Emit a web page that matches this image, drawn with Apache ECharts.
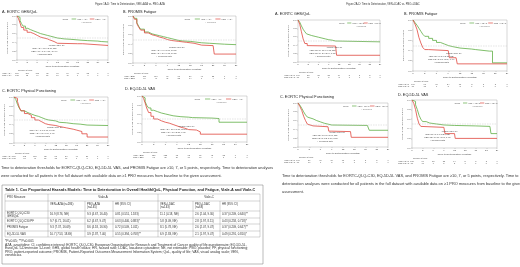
<!DOCTYPE html>
<html><head><meta charset="utf-8">
<script src="https://cdn.jsdelivr.net/npm/echarts@6/dist/echarts.min.js"></script>
<style>html,body{margin:0;padding:0;background:#fff}#c{width:520px;height:267px}</style>
</head><body><div id="c"></div>
<script>
// ---------- DATA ----------
const xTicksA = [0,3,6,9,12,15,18,21,24,27];
const xTicksC = [0,3,6,9,12,15,18,21,24];

// Figure 1 (VIALE-A) curves [month, proportion without deterioration]
const a_ghs_ven = [[0,1],[0.4,0.97],[0.9,0.9],[1.3,0.83],[1.8,0.77],[2.5,0.72],[3.2,0.69],[4,0.66],[5,0.63],[6,0.6],[7,0.58],[8,0.56],[9,0.54],[10,0.52],[11,0.5],[12,0.49],[13,0.48],[14,0.47],[16,0.46],[17.5,0.45],[19,0.44],[21,0.43],[24,0.42],[25,0.41],[27,0.41]];
const a_ghs_pbo = [[0,1],[0.4,0.95],[0.9,0.84],[1.3,0.74],[2,0.68],[3,0.63],[4,0.6],[5,0.56],[6,0.52],[7,0.5],[8,0.48],[9,0.46],[9.6,0.42],[11,0.38],[12,0.37],[18,0.37],[19.5,0.33],[27,0.33]];
const a_fat_ven = [[0,1],[0.4,0.95],[1,0.86],[1.5,0.78],[2,0.72],[3,0.66],[4,0.62],[5,0.6],[6,0.58],[7,0.56],[8,0.54],[9,0.52],[10,0.5],[11,0.48],[12,0.47],[13,0.46],[15,0.45],[16,0.43],[18,0.42],[20,0.41],[22,0.4],[24,0.39],[27,0.39]];
const a_fat_pbo = [[0,1],[0.4,0.93],[1,0.84],[1.5,0.76],[2,0.7],[3,0.64],[4,0.6],[5,0.58],[6,0.55],[7,0.53],[8,0.5],[9,0.48],[10,0.46],[12,0.44],[14,0.42],[16,0.38],[18,0.37],[21,0.36],[21.3,0.19],[27,0.19]];
const a_pf_ven = [[0,1],[0.5,0.95],[1,0.84],[1.5,0.76],[2,0.7],[3,0.66],[4,0.63],[5,0.6],[6,0.58],[7,0.55],[8,0.52],[9,0.5],[10,0.48],[12,0.45],[13,0.44],[15,0.42],[17,0.41],[19,0.39],[21,0.38],[27,0.38]];
const a_pf_pbo = [[0,1],[0.5,0.97],[1,0.9],[1.5,0.78],[2,0.7],[3,0.64],[4,0.6],[5,0.55],[6,0.5],[7,0.46],[8,0.42],[9,0.4],[10,0.38],[12,0.36],[13,0.33],[15,0.3],[17,0.28],[18,0.25],[19.5,0.2],[21,0.13],[27,0.13]];
const a_vas_ven = [[0,1],[0.4,0.96],[0.8,0.88],[1.2,0.8],[1.7,0.74],[2.3,0.69],[3,0.66],[4,0.63],[5,0.61],[6,0.59],[7,0.57],[8,0.56],[9,0.55],[10,0.54],[12,0.53],[13,0.52],[18,0.51],[19.8,0.43],[27,0.43]];
const a_vas_pbo = [[0,1],[0.4,0.95],[0.8,0.85],[1.2,0.74],[1.7,0.64],[2.3,0.56],[3,0.5],[4,0.46],[5,0.43],[6,0.41],[7,0.38],[8,0.35],[9,0.32],[10,0.3],[11,0.27],[12,0.26],[14,0.22],[15,0.17],[27,0.17]];

// Figure 2 (VIALE-C)
const c_ghs_ven = [[0,1],[0.5,0.95],[1,0.86],[1.5,0.78],[2,0.72],[2.5,0.67],[3,0.63],[4,0.61],[5,0.59],[6,0.57],[7,0.55],[8,0.53],[9,0.52],[10,0.5],[11,0.48],[24,0.48]];
const c_ghs_pbo = [[0,1],[0.5,0.9],[1,0.72],[1.5,0.55],[2,0.44],[2.7,0.39],[3,0.38],[11,0.38],[11.3,0.16],[24,0.16]];
const c_fat_ven = [[0,1],[0.5,0.95],[1,0.9],[1.5,0.84],[2,0.78],[2.5,0.72],[3,0.68],[4,0.64],[5,0.6],[6,0.56],[7,0.53],[8,0.5],[9,0.48],[10,0.45],[12,0.43],[15,0.42],[16,0.39],[19.5,0.39],[20.3,0.16],[24,0.16]];
const c_fat_pbo = [[0,1],[0.5,0.92],[1,0.82],[1.5,0.66],[2,0.55],[2.5,0.46],[3,0.42],[4,0.4],[9,0.4],[9.3,0.26],[11,0.26],[11.3,0.14],[24,0.14]];
const c_pf_ven = [[0,1],[0.5,0.95],[1,0.88],[1.5,0.8],[2,0.73],[2.5,0.68],[3,0.64],[4,0.6],[5,0.57],[6,0.54],[7,0.52],[8,0.5],[9,0.49],[18.5,0.49],[19,0.38],[24,0.38]];
const c_pf_pbo = [[0,1],[0.5,0.92],[1,0.83],[1.5,0.7],[2,0.6],[2.5,0.52],[3,0.48],[4,0.46],[8,0.46],[8.2,0.36],[9,0.35],[14,0.35],[14.2,0.22],[24,0.22]];
const c_vas_ven = [[0,1],[0.5,0.97],[1,0.9],[1.5,0.8],[2,0.68],[2.5,0.6],[3,0.55],[4,0.52],[5,0.5],[7,0.48],[9,0.47],[12,0.46],[18,0.45],[22,0.45],[22.3,0.3],[24,0.3]];
const c_vas_pbo = [[0,1],[0.5,0.93],[1,0.8],[1.5,0.62],[2,0.5],[2.5,0.45],[3,0.43],[9,0.43],[9.3,0.3],[12,0.3],[12.2,0.2],[24,0.2]];

// Number at risk rows
const a_ghs_riskVen = [207,150,118,92,70,54,40,22,7,0];
const a_ghs_riskPbo = [108,62,40,27,19,10,7,3,1,0];
const a_fat_riskVen = [218,160,124,96,73,56,41,22,7,1];
const a_fat_riskPbo = [112,70,46,31,22,14,9,4,1,0];
const a_pf_riskVen = [207,148,115,88,68,53,40,21,6,0];
const a_pf_riskPbo = [108,63,41,27,18,11,7,3,1,0];
const a_vas_riskVen = [217,155,122,95,72,56,42,22,7,1];
const a_vas_riskPbo = [110,63,38,24,16,10,6,3,1,0];
const c_ghs_riskVen = [107,58,38,25,14,8,5,2,0];
const c_ghs_riskPbo = [50,15,9,5,2,1,1,0,0];
const c_fat_riskVen = [107,63,37,24,13,8,5,2,0];
const c_fat_riskPbo = [51,18,9,5,2,1,1,0,0];
const c_pf_riskVen = [107,57,36,24,13,8,5,2,0];
const c_pf_riskPbo = [50,16,9,5,2,1,1,0,0];
const c_vas_riskVen = [108,60,38,25,14,8,5,2,0];
const c_vas_riskPbo = [51,17,9,5,2,1,1,0,0];

// Medians
const a_medians = [["16.9 (8.76, NE)","9.3 (4.67, 16.40)"],["9.3 (7.37, 16.69)","8.6 (4.18, 16.90)"],["9.7 (6.71, 16.01)","6.2 (4.67, 9.47)"],["10.7 (7.53, 18.69)","3.9 (2.87, 7.40)"]];
const c_medians = [["11.1 (4.18, NE)","2.6 (2.04, 9.30)"],["8.1 (5.78, NE)","2.6 (2.07, 9.47)"],["5.8 (3.09, NE)","2.8 (1.97, 8.11)"],["6.9 (2.83, NE)","2.1 (1.97, 9.47)"]];

const panelTitles = ["A. EORTC GHS/QoL","B. PROMIS Fatigue","C. EORTC Physical Functioning","D. EQ-5D-5L VAS"];
const figTitles = ["Figure 1A-D: Time to Deterioration, VEN+AZA vs. PBO+AZA","Figure 2A-D: Time to Deterioration, VEN+LDAC vs. PBO+LDAC"];
const armsA = ["VEN + AZA","PBO + AZA","VEN+AZA","PBO+AZA"];
const armsC = ["VEN + LDAC","PBO + LDAC","VEN+LDAC","PBO+LDAC"];

const noteLeft = ["Time to deterioration thresholds for EORTC-QLQ-C30, EQ-5D-5L VAS, and PROMIS Fatigue are \u226510, 7, or 5 points, respectively. Time to deterioration analyses",
"were conducted for all patients in the full dataset with available data on \u22651 PRO measures from baseline to the given assessment."];
const noteRight = ["Time to deterioration thresholds for EORTC-QLQ-C30, EQ-5D-5L VAS, and PROMIS Fatigue are \u226510, 7, or 5 points, respectively. Time to",
"deterioration analyses were conducted for all patients in the full dataset with available data on \u22651 PRO measures from baseline to the given",
"assessment."];

// Table
const tableTitle = "Table 1. Cox Proportional Hazards Models: Time to Deterioration in Overall Health/QoL, Physical Function, and Fatigue, Viale-A and Viale-C";
const tableHead1 = ["PRO Measure","Viale-A","Viale-C"];
const tableHead2 = ["","VEN+AZA (n=286)","PBO+AZA\n(n=145)","HR (95% CI)","VEN+LDAC\n(n=143)","PBO+LDAC\n(n=68)","HR (95% CI)"];
const tableRows = [
 ["EORTC QLQ-C30\nGHS/QoL","16.9 (8.76, NE)","9.3 (4.67, 16.40)","0.81 (0.551, 1.183)","11.1 (4.18, NE)","2.6 (2.04, 9.30)","0.37 (0.209, 0.640)**"],
 ["EORTC QLQ-C30 PF","9.7 (6.71, 16.01)","6.2 (4.67, 9.47)","0.63 (0.446, 0.883)*","5.8 (3.09, NE)","2.8 (1.97, 8.11)","0.43 (0.258, 0.718)*"],
 ["PROMIS Fatigue","9.3 (7.37, 16.69)","8.6 (4.18, 16.90)","0.72 (0.509, 1.011)","8.1 (5.78, NE)","2.6 (2.07, 9.47)","0.37 (0.209, 0.647)**"],
 ["EQ-5D-5L VAS","10.7 (7.53, 18.69)","3.9 (2.87, 7.40)","0.55 (0.394, 0.768)**","6.9 (2.83, NE)","2.1 (1.97, 9.47)","0.49 (0.291, 0.810)*"]
];
const tableNotes = ["*P\u22640.05; **P\u22640.001",
"AZA, azacitidine; CI, confidence interval; EORTC QLQ-C30, European Organisation for Research and Treatment of Cancer quality of life questionnaire; EQ-5D-5L,",
"EuroQoL 5-Dimension 5-Level; GHS, global health status; HR, hazard ratio; LDAC, low-dose cytarabine; NE, not estimable; PBO, placebo; PF, physical functioning;",
"PRO, patient-reported outcome; PROMIS, Patient-Reported Outcomes Measurement Information System; QoL, quality of life; VAS, visual analog scale; VEN,",
"venetoclax."];

// ---------- LAYOUT ----------
const FONT = "Liberation Sans";
const GREEN = "#5fae45", RED = "#e0473f";
const panels = [
 {ven:a_ghs_ven,pbo:a_ghs_pbo,rv:a_ghs_riskVen,rp:a_ghs_riskPbo,ticks:xTicksA,arms:armsA,med:a_medians[0],title:panelTitles[0],l:17,t:16,w:91,h:44,tx:2,ty:12,rx:2},
 {ven:a_fat_ven,pbo:a_fat_pbo,rv:a_fat_riskVen,rp:a_fat_riskPbo,ticks:xTicksA,arms:armsA,med:a_medians[1],title:panelTitles[1],l:133,t:16,w:103,h:47,tx:123,ty:12,rx:124},
 {ven:a_pf_ven,pbo:a_pf_pbo,rv:a_pf_riskVen,rp:a_pf_riskPbo,ticks:xTicksA,arms:armsA,med:a_medians[2],title:panelTitles[2],l:14,t:97,w:94,h:46,tx:2,ty:91,rx:2},
 {ven:a_vas_ven,pbo:a_vas_pbo,rv:a_vas_riskVen,rp:a_vas_riskPbo,ticks:xTicksA,arms:armsA,med:a_medians[3],title:panelTitles[3],l:142,t:96,w:105,h:46,tx:125,ty:89,rx:133},
 {ven:c_ghs_ven,pbo:c_ghs_pbo,rv:c_ghs_riskVen,rp:c_ghs_riskPbo,ticks:xTicksC,arms:armsC,med:c_medians[0],title:panelTitles[0],l:298,t:20,w:82,h:42,tx:275,ty:14,rx:284},
 {ven:c_fat_ven,pbo:c_fat_pbo,rv:c_fat_riskVen,rp:c_fat_riskPbo,ticks:xTicksC,arms:armsC,med:c_medians[1],title:panelTitles[1],l:413,t:20,w:94,h:51,tx:404,ty:14,rx:398},
 {ven:c_pf_ven,pbo:c_pf_pbo,rv:c_pf_riskVen,rp:c_pf_riskPbo,ticks:xTicksC,arms:armsC,med:c_medians[2],title:panelTitles[2],l:298,t:103,w:90,h:44,tx:280,ty:97,rx:284},
 {ven:c_vas_ven,pbo:c_vas_pbo,rv:c_vas_riskVen,rp:c_vas_riskPbo,ticks:xTicksC,arms:armsC,med:c_medians[3],title:panelTitles[3],l:412,t:100,w:85,h:48,tx:398,ty:95,rx:398}
];

function txt(text,x,y,size,o){o=o||{};return {type:'text',silent:true,z:50,style:{text:text,x:x,y:y,fontSize:size,fontFamily:FONT,fontWeight:o.bold?'bold':'normal',fill:o.fill||'#333',textAlign:o.align||'left',textVerticalAlign:o.va||'middle',lineHeight:o.lh||size*1.15}};}
function ln(x1,y1,x2,y2,c,w,dash){return {type:'line',silent:true,z:50,shape:{x1:x1,y1:y1,x2:x2,y2:y2},style:{stroke:c||'#555',lineWidth:w||0.4,lineDash:dash||null}};}

const grids=[],xAxes=[],yAxes=[],series=[],graphics=[];
panels.forEach((p,i)=>{
  grids.push({left:p.l,top:p.t,width:p.w,height:p.h,show:true,borderColor:'#999',borderWidth:0.4,containLabel:false});
  const xmax=p.ticks[p.ticks.length-1];
  xAxes.push({gridIndex:i,type:'value',min:0,max:xmax,interval:3,
    axisLine:{show:false},axisTick:{show:true,length:1,lineStyle:{color:'#777',width:0.3}},splitLine:{show:false},
    axisLabel:{fontSize:2.4,margin:1.5,color:'#444',fontFamily:FONT},
    name:'Time to Deterioration (Months)',nameLocation:'middle',nameGap:4.8,nameTextStyle:{fontSize:2.5,color:'#444',fontFamily:FONT}});
  yAxes.push({gridIndex:i,type:'value',min:0,max:1,interval:0.2,
    axisLine:{show:false},axisTick:{show:true,length:1,lineStyle:{color:'#777',width:0.3}},splitLine:{show:false},
    axisLabel:{fontSize:2.3,margin:1.5,color:'#444',fontFamily:FONT,formatter:v=>v.toFixed(1)},
    name:'Proportion Without Deterioration',nameLocation:'middle',nameRotate:90,nameGap:6,nameTextStyle:{fontSize:2.2,color:'#444',fontFamily:FONT}});
  series.push({type:'line',xAxisIndex:i,yAxisIndex:i,step:'end',data:p.ven,showSymbol:false,lineStyle:{color:GREEN,width:0.8},itemStyle:{color:GREEN},silent:true,z:3,
    markLine:{silent:true,symbol:'none',label:{show:false},lineStyle:{color:'#bbb',type:[1.5,1],width:0.4},data:[{yAxis:0.5}]}});
  series.push({type:'line',xAxisIndex:i,yAxisIndex:i,step:'end',data:p.pbo,showSymbol:false,lineStyle:{color:RED,width:0.8},itemStyle:{color:RED},silent:true,z:4});
  graphics.push(txt(p.title,p.tx,p.ty,3.8,{fill:'#222'}));
  const lx=p.l+p.w*0.5, ly=p.t+3;
  graphics.push(txt('Group',lx,ly,2.1,{fill:'#555'}));
  graphics.push(ln(lx+p.w*0.1,ly,lx+p.w*0.15,ly,GREEN,0.7));
  graphics.push(txt(p.arms[0],lx+p.w*0.16,ly,2.1,{fill:'#555'}));
  graphics.push(ln(lx+p.w*0.3,ly,lx+p.w*0.35,ly,RED,0.7));
  graphics.push(txt(p.arms[1],lx+p.w*0.36,ly,2.1,{fill:'#555'}));
  graphics.push(txt('+ Censored',lx+p.w*0.2,ly+3,2.1,{fill:'#777'}));
  const mx=p.l+p.w*0.3, my=p.t+p.h*0.66;
  graphics.push(txt('Median (95% CI)',mx+p.w*0.05,my,2.1,{fill:'#444'}));
  graphics.push(txt(p.arms[2]+': '+p.med[0],mx,my+3,2.1,{fill:'#444',align:'center'}));
  graphics.push(txt(p.arms[3]+': '+p.med[1],mx,my+6,2.1,{fill:'#444',align:'center'}));
  graphics.push(txt('+ Censored data',mx,my+9,2.1,{fill:'#444',align:'center'}));
});

graphics.push(txt(figTitles[0],130,4,2.6,{align:'center',fill:'#333'}));
graphics.push(txt(figTitles[1],383,4,2.6,{align:'center',fill:'#333'}));
noteLeft.forEach((s,k)=>graphics.push(txt(s,1,168+k*8,3.85,{fill:'#333'})));
noteRight.forEach((s,k)=>graphics.push(txt(s,282,176+k*8,3.9,{fill:'#333'})));

const TB={x:2,y:185,w:261,h:79};
graphics.push({type:'rect',silent:true,z:40,shape:{x:TB.x,y:TB.y,width:TB.w,height:TB.h},style:{fill:'none',stroke:'#777',lineWidth:0.5}});
graphics.push(txt(tableTitle,5,190,3.8,{bold:true,fill:'#222'}));
const cols=[5,48,85,113,158,193,220,260];
const rowsY=[194,201,211,218,224,231,237];
rowsY.forEach(y=>graphics.push(ln(cols[0],y,cols[7],y,'#888',0.35)));
graphics.push(ln(cols[0],rowsY[0],cols[0],rowsY[6],'#888',0.35));
graphics.push(ln(cols[1],rowsY[0],cols[1],rowsY[6],'#888',0.35));
graphics.push(ln(cols[4],rowsY[0],cols[4],rowsY[6],'#888',0.35));
graphics.push(ln(cols[7],rowsY[0],cols[7],rowsY[6],'#888',0.35));
[2,3,5,6].forEach(c=>graphics.push(ln(cols[c],rowsY[1],cols[c],rowsY[6],'#888',0.35)));
graphics.push(txt(tableHead1[0],cols[0]+2,(rowsY[0]+rowsY[1])/2,2.9));
graphics.push(txt(tableHead1[1],(cols[1]+cols[4])/2,(rowsY[0]+rowsY[1])/2,2.9,{align:'center'}));
graphics.push(txt(tableHead1[2],(cols[4]+cols[7])/2,(rowsY[0]+rowsY[1])/2,2.9,{align:'center'}));
tableHead2.forEach((s,c)=>{ if(s) graphics.push(txt(s,cols[c]+2,rowsY[1]+1.5,2.8,{va:'top',lh:3.2})); });
tableRows.forEach((r,ri)=>{
  const yc=(rowsY[ri+2]+rowsY[ri+3])/2;
  r.forEach((s,c)=>graphics.push(txt(s,cols[c]+2,c===0&&ri===0?rowsY[2]+1.2:yc,2.8,{va:c===0&&ri===0?'top':'middle',lh:3.0})));
});
tableNotes.forEach((s,k)=>graphics.push(txt(s,5,241+k*3.6,3.36)));

const chart=echarts.init(document.getElementById('c'),null,{renderer:'canvas',width:520,height:267});
chart.setOption({animation:false,backgroundColor:'#fff',grid:grids,xAxis:xAxes,yAxis:yAxes,series:series,graphic:{elements:graphics}});

const extra=[];
panels.forEach((p,i)=>{
  const base=p.t+p.h;
  extra.push(txt('Number at Risk',chart.convertToPixel({gridIndex:i},[0,0])[0]+1,base+10.5,2.1,{fill:'#555'}));
  extra.push(txt(p.arms[2],p.rx,base+13,2.1,{fill:'#555'}));
  extra.push(txt(p.arms[3],p.rx,base+15.5,2.1,{fill:'#555'}));
  p.ticks.forEach((t,k)=>{
    const px=chart.convertToPixel({gridIndex:i},[t,0])[0];
    extra.push(txt(String(p.rv[k]),px,base+13,2.1,{fill:'#555',align:'center'}));
    extra.push(txt(String(p.rp[k]),px,base+15.5,2.1,{fill:'#555',align:'center'}));
  });
});
chart.setOption({graphic:{elements:graphics.concat(extra)}});
</script></body></html>
